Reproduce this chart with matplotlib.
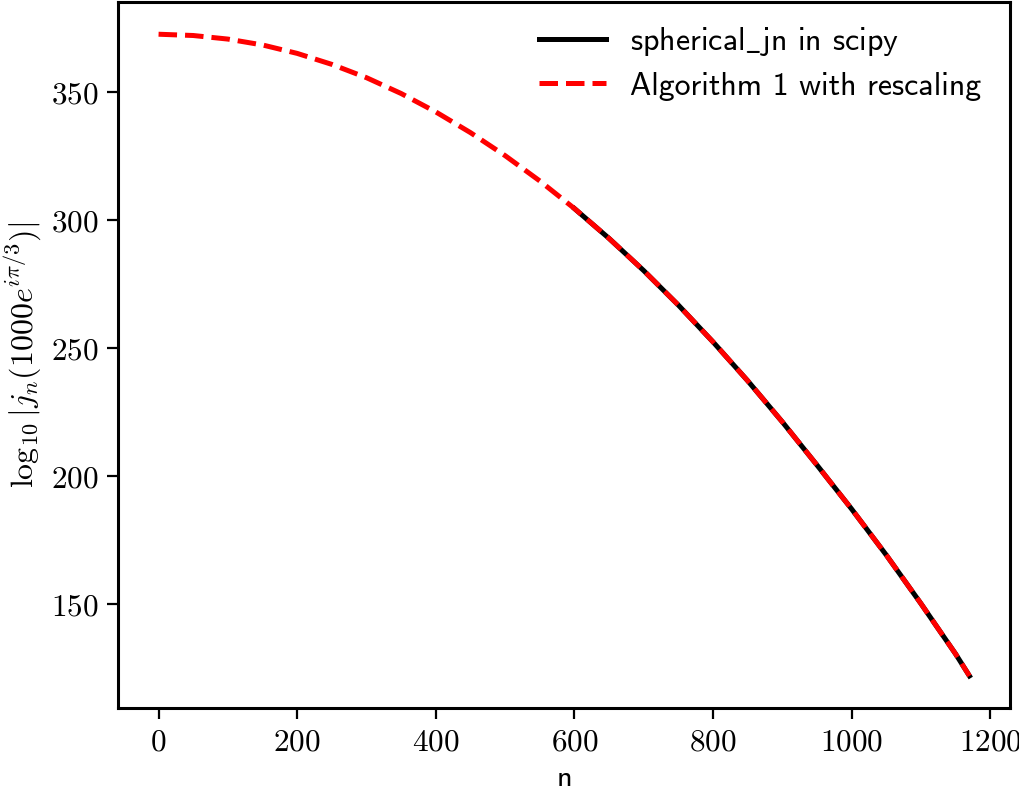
import matplotlib
matplotlib.use('Agg')
import matplotlib.pyplot as plt
import numpy as np

# values
n_alg = [0, 50, 100, 150, 200, 250, 300, 350, 400, 450, 500, 550, 600,
         650, 700, 750, 800, 850, 900, 950, 1000, 1050, 1100, 1150, 1170]
log_alg = [372.8, 372.3, 370.9, 368.6, 365.3, 361.0, 355.8, 349.6, 342.4,
           334.3, 325.3, 315.4, 304.6, 292.9, 280.3, 266.8, 252.4, 237.2,
           221.1, 204.2, 187.0, 169.0, 150.0, 130.3, 121.7]

n_scipy = [600, 650, 700, 750, 800, 850, 900, 950, 1000, 1050, 1100, 1150, 1170]
log_scipy = [304.6, 292.9, 280.3, 266.8, 252.4, 237.2, 221.1, 204.2, 187.0,
             169.0, 150.0, 130.3, 121.7]

yticks = [150, 200, 250, 300, 350]
xticks = [0, 200, 400, 600, 800, 1000, 1200]

plt.rcParams['mathtext.fontset'] = 'cm'

fig = plt.figure(figsize=(10.2, 7.94), dpi=100)
ax = fig.add_axes([0.1157, 0.1083, 0.8745, 0.889])

ax.plot(n_scipy, log_scipy, color='black', lw=3.6,
        label=r'spherical$\mathsf{\_}$jn in scipy')
ax.plot(n_alg, log_alg, color='red', lw=3.6, ls='--',
        label='Algorithm 1 with rescaling')

ax.set_xticks(xticks)
ax.set_yticks(yticks)
ax.set_xticklabels(['$%d$' % t for t in xticks])
ax.set_yticklabels(['$%d$' % t for t in yticks])
ax.tick_params(labelsize=22.5, length=8, width=1.6, pad=6)
for s in ax.spines.values():
    s.set_linewidth(2.2)

ax.set_xlabel('n', family='cmss10', fontsize=22, labelpad=6)
ax.set_ylabel(r'$\log_{10}|j_n(1000e^{i\pi/3})|$', fontsize=23, labelpad=6)

leg = ax.legend(loc='upper right', bbox_to_anchor=(1.0, 1.008), frameon=False,
                prop={'family': 'cmss10', 'size': 23},
                handlelength=2.1, handletextpad=0.75, borderaxespad=0.5,
                labelspacing=0.42)

fig.savefig('out.png', dpi=100)
